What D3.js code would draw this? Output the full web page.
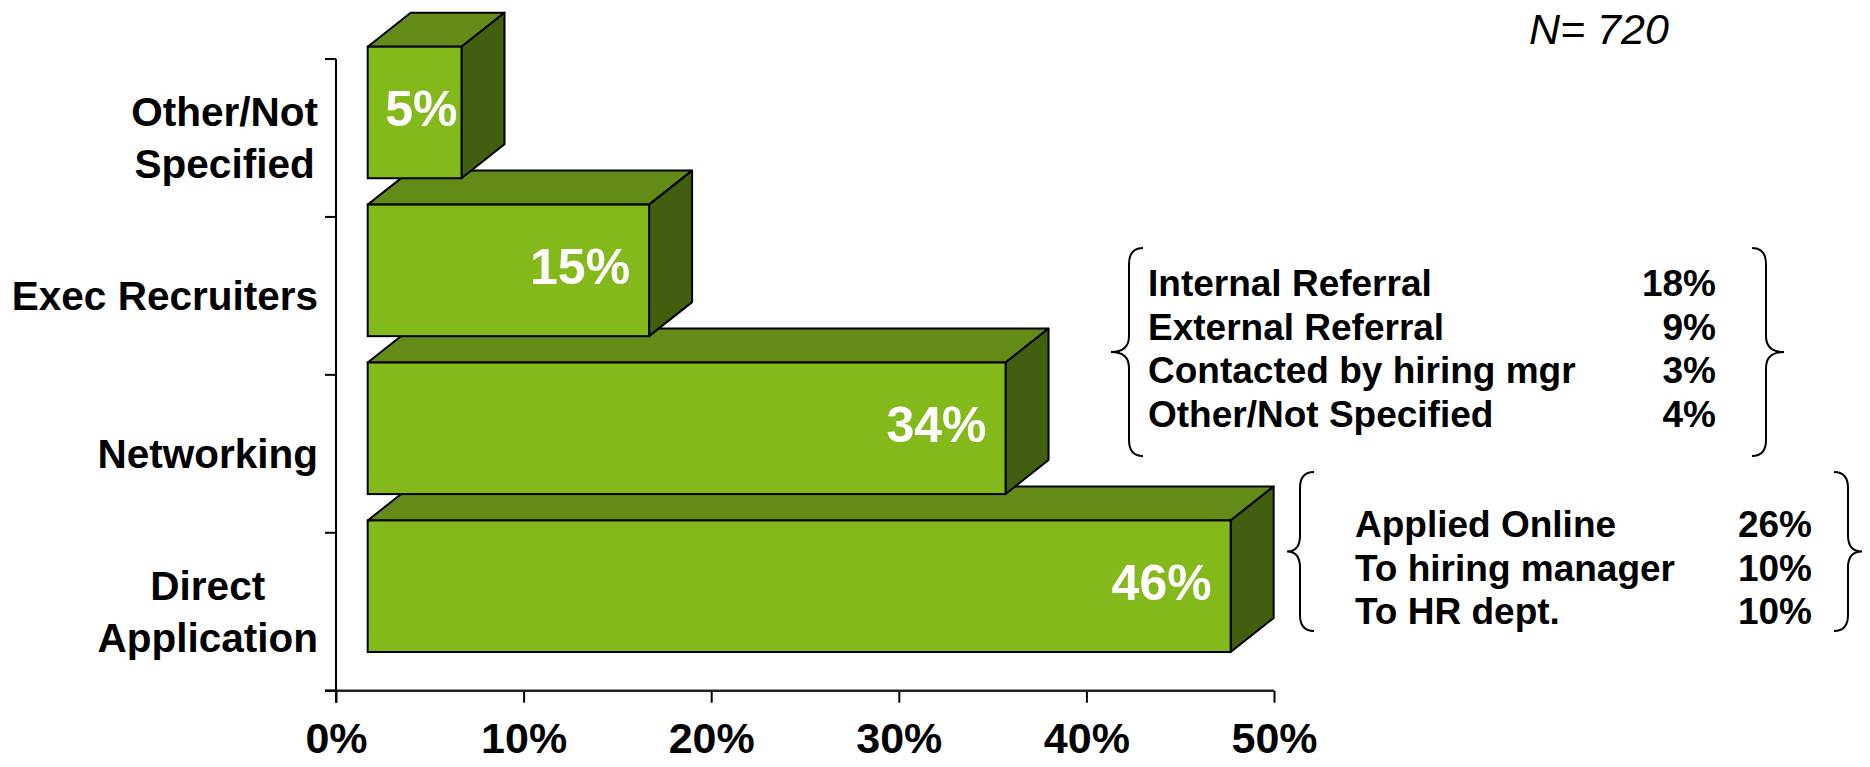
<!DOCTYPE html>
<html>
<head>
<meta charset="utf-8">
<script src="https://cdn.jsdelivr.net/npm/d3@7"></script>
<style>
  html, body { margin: 0; padding: 0; background: #ffffff; }
  svg { display: block; font-family: "Liberation Sans", Arial, sans-serif; }
</style>
</head>
<body>
<svg id="chart" width="1870" height="767"></svg>
<script>
// Job-source categories, top to bottom, with their wrapped label lines
const categories = ["Other/Not Specified", "Exec Recruiters", "Networking", "Direct Application"];
const categoryLines = [["Other/Not", "Specified"], ["Exec Recruiters"], ["Networking"], ["Direct", "Application"]];
const shares = [5, 15, 34, 46];

// Horizontal axis ticks (percent)
const xTicks = [0, 10, 20, 30, 40, 50];

// Breakdown of the Networking share
const networkingItems = ["Internal Referral", "External Referral", "Contacted by hiring mgr", "Other/Not Specified"];
const networkingShares = [18, 9, 3, 4];

// Breakdown of the Direct Application share
const directItems = ["Applied Online", "To hiring manager", "To HR dept."];
const directShares = [26, 10, 10];

const sampleNote = "N= 720";

const svg = d3.select("#chart");

const x = d3.scaleLinear().domain([0, 50]).range([336, 1274]);
const y = d3.scaleBand().domain(categories).range([59, 690.7]);
const bw = y.bandwidth();

// 3-D extrusion of the bars
const depthX = 43, depthY = 34, frontShift = 31.7;
const colFront = "#84b91c", colTop = "#648a17", colSide = "#425e0f";

const baseY = y.range()[1];

// Value axis
const xAxis = d3.axisBottom(x)
  .tickValues(xTicks)
  .tickFormat(d => d + "%")
  .tickSize(12)
  .tickSizeOuter(0)
  .tickPadding(20);

const gx = svg.append("g").attr("transform", `translate(0,${baseY})`).call(xAxis);
gx.select(".domain").remove();
gx.selectAll(".tick line").attr("stroke", "#000").attr("stroke-width", 2);
gx.selectAll(".tick text")
  .attr("fill", "#000")
  .attr("font-family", "'Liberation Sans', Arial, sans-serif")
  .attr("font-size", 43)
  .attr("font-weight", "bold")
  .attr("dy", "0.71em");

svg.append("line")
  .attr("x1", 325).attr("x2", x(50))
  .attr("y1", baseY).attr("y2", baseY)
  .attr("stroke", "#222").attr("stroke-width", 2.5);

// Category axis: vertical line with ticks on band boundaries
svg.append("line")
  .attr("x1", x(0)).attr("x2", x(0))
  .attr("y1", y.range()[0]).attr("y2", baseY + 12)
  .attr("stroke", "#000").attr("stroke-width", 2);

const boundaries = categories.map(c => y(c)).concat([baseY]);
svg.selectAll("line.ytick").data(boundaries).enter().append("line")
  .attr("class", "ytick")
  .attr("x1", x(0) - 11).attr("x2", x(0))
  .attr("y1", d => d).attr("y2", d => d)
  .attr("stroke", "#000").attr("stroke-width", 2);

// Category labels: block right-aligned to the axis, lines centred within it
const labelRight = 318;
const catLabels = svg.selectAll("text.cat").data(categories).enter().append("text")
  .attr("class", "cat")
  .attr("text-anchor", "middle")
  .attr("font-size", 40.5)
  .attr("font-weight", "bold")
  .attr("fill", "#000");

catLabels.each(function(c, i) {
  const lines = categoryLines[i];
  const cy = y(c) + bw / 2;
  const lh = 52;
  const spans = lines.map((ln, k) =>
    d3.select(this).append("tspan")
      .attr("y", cy + (k - (lines.length - 1) / 2) * lh)
      .attr("dy", "0.35em")
      .text(ln));
  const maxW = d3.max(spans, s => s.node().getComputedTextLength());
  spans.forEach(s => s.attr("x", labelRight - maxW / 2));
});

// Bars, drawn bottom-up so upper bars sit over the top faces below
const barData = categories.map((c, i) => ({ cat: c, value: shares[i] })).reverse();

const bars = svg.selectAll("g.bar").data(barData).enter().append("g").attr("class", "bar");

bars.each(function(d) {
  const g = d3.select(this);
  const x0 = x(0) + frontShift;
  const x1 = x(d.value) + frontShift;
  const yt = y(d.cat) - 0.078 * bw;
  const yb = yt + 0.833 * bw;

  g.append("path")
    .attr("d", `M${x0},${yt}L${x1},${yt}L${x1 + depthX},${yt - depthY}L${x0 + depthX},${yt - depthY}Z`)
    .attr("fill", colTop).attr("stroke", "#000").attr("stroke-width", 2).attr("stroke-linejoin", "round");
  g.append("path")
    .attr("d", `M${x1},${yt}L${x1 + depthX},${yt - depthY}L${x1 + depthX},${yb - depthY}L${x1},${yb}Z`)
    .attr("fill", colSide).attr("stroke", "#000").attr("stroke-width", 2).attr("stroke-linejoin", "round");
  g.append("rect")
    .attr("x", x0).attr("y", yt)
    .attr("width", x1 - x0).attr("height", yb - yt)
    .attr("fill", colFront).attr("stroke", "#000").attr("stroke-width", 2);

  const label = g.append("text")
    .attr("text-anchor", "end")
    .attr("font-size", 50)
    .attr("font-weight", "bold")
    .attr("fill", "#ffffff")
    .attr("y", (yt + yb) / 2 - 4)
    .attr("dy", "0.36em")
    .text(d.value + "%");
  const tw = label.node().getComputedTextLength();
  const pad = Math.min(19, Math.max(4, (x1 - x0 - tw) / 2 - 7));
  label.attr("x", x1 - pad);
});

// Curly brace path: vertical stem at sx, tip at tx, from y0 to y1
function brace(sx, tx, y0, y1, ym) {
  const dir = sx > tx ? 1 : -1;   // hooks point away from the tip
  const h = 14 * dir, r = 16;
  return `M${sx + h},${y0}` +
    `Q${sx},${y0} ${sx},${y0 + r}` +
    `L${sx},${ym - r}` +
    `Q${sx},${ym} ${tx},${ym}` +
    `Q${sx},${ym} ${sx},${ym + r}` +
    `L${sx},${y1 - r}` +
    `Q${sx},${y1} ${sx + h},${y1}`;
}

function breakdown(items, values, opts) {
  const g = svg.append("g");
  g.append("path").attr("d", brace(opts.lx, opts.lt, opts.y0, opts.y1, (opts.y0 + opts.y1) / 2))
    .attr("fill", "none").attr("stroke", "#000").attr("stroke-width", 2);
  g.append("path").attr("d", brace(opts.rx, opts.rt, opts.y0, opts.y1, (opts.y0 + opts.y1) / 2))
    .attr("fill", "none").attr("stroke", "#000").attr("stroke-width", 2);

  g.selectAll("text.item").data(items).enter().append("text")
    .attr("class", "item")
    .attr("x", opts.textX)
    .attr("y", (d, i) => opts.rowY + i * opts.rowH)
    .attr("dy", "0.36em")
    .attr("font-size", 37).attr("font-weight", "bold").attr("fill", "#000")
    .text(d => d);
  g.selectAll("text.val").data(values).enter().append("text")
    .attr("class", "val")
    .attr("x", opts.valX)
    .attr("y", (d, i) => opts.rowY + i * opts.rowH)
    .attr("dy", "0.36em")
    .attr("text-anchor", "end")
    .attr("font-size", 37).attr("font-weight", "bold").attr("fill", "#000")
    .text(d => d + "%");
}

breakdown(networkingItems, networkingShares, {
  lx: 1129, lt: 1111, rx: 1766, rt: 1784, y0: 248, y1: 456,
  textX: 1148, valX: 1716, rowY: 283, rowH: 43.5
});

breakdown(directItems, directShares, {
  lx: 1300, lt: 1287, rx: 1848, rt: 1862, y0: 472, y1: 631,
  textX: 1355, valX: 1812, rowY: 524, rowH: 43.3
});

// Sample size note
svg.append("text")
  .attr("x", 1529).attr("y", 43.5)
  .attr("font-size", 43).attr("font-style", "italic").attr("fill", "#000")
  .text(sampleNote);
</script>
</body>
</html>
